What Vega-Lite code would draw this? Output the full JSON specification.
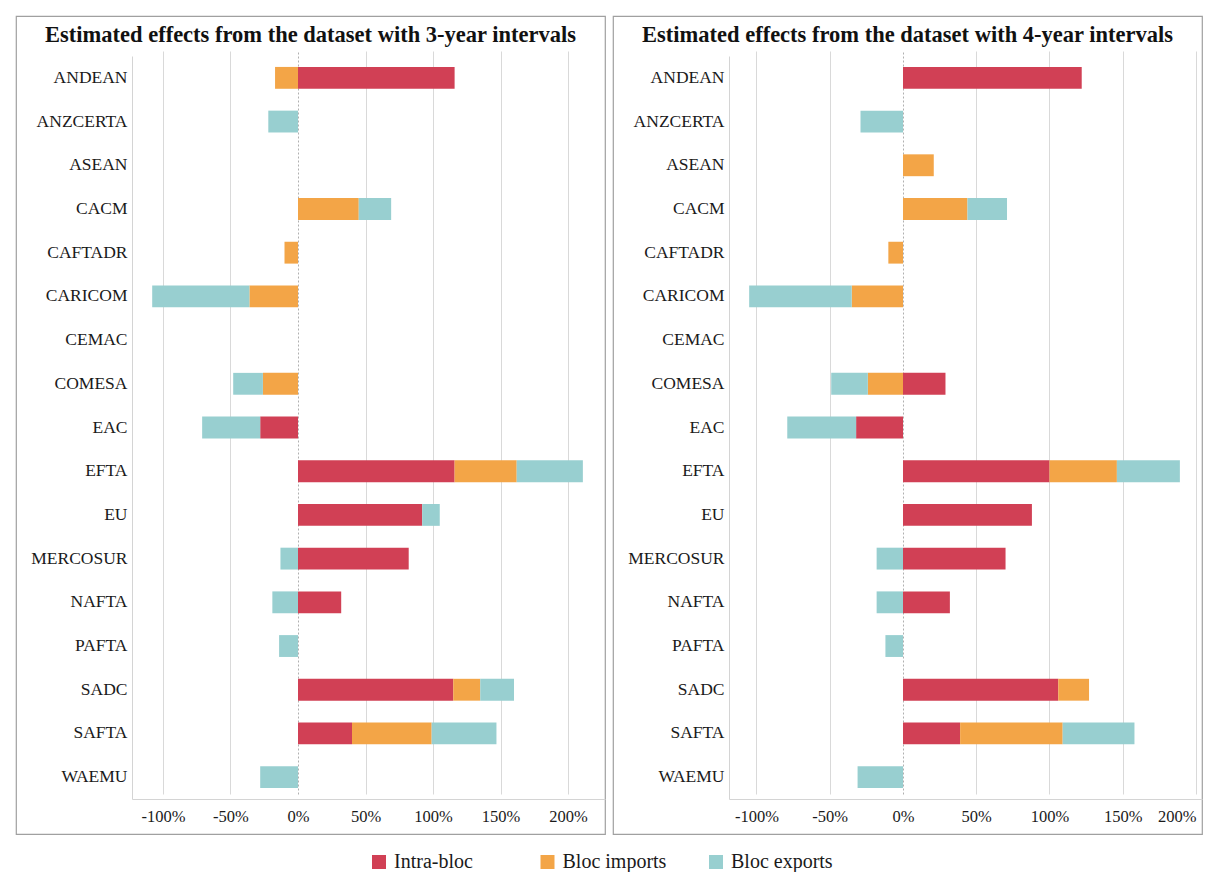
{
  "$schema": "https://vega.github.io/schema/vega-lite/v6.json",
  "padding": {"left": 15, "top": 15, "right": 0, "bottom": 0},
  "autosize": {"type": "pad"},
  "background": "white",
  "config": {
    "font": "Liberation Serif",
    "view": {"stroke": "#a0a0a0", "strokeWidth": 1.2},
    "axis": {"labelFont": "Liberation Serif", "labelColor": "#1a1a1a", "domainColor": "#d4d4d4", "gridColor": "#d9d9d9", "ticks": false, "title": null},
    "concat": {"spacing": 6}
  },
  "datasets": {
    "d3": [
      {"bloc": "ANDEAN", "effect": "Intra-bloc", "value": 116},
      {"bloc": "ANDEAN", "effect": "Bloc imports", "value": -17},
      {"bloc": "ANZCERTA", "effect": "Bloc exports", "value": -22},
      {"bloc": "CACM", "effect": "Bloc imports", "value": 45},
      {"bloc": "CACM", "effect": "Bloc exports", "value": 24},
      {"bloc": "CAFTADR", "effect": "Bloc imports", "value": -10},
      {"bloc": "CARICOM", "effect": "Bloc imports", "value": -36},
      {"bloc": "CARICOM", "effect": "Bloc exports", "value": -72},
      {"bloc": "COMESA", "effect": "Bloc imports", "value": -26},
      {"bloc": "COMESA", "effect": "Bloc exports", "value": -22},
      {"bloc": "EAC", "effect": "Intra-bloc", "value": -28},
      {"bloc": "EAC", "effect": "Bloc exports", "value": -43},
      {"bloc": "EFTA", "effect": "Intra-bloc", "value": 116},
      {"bloc": "EFTA", "effect": "Bloc imports", "value": 46},
      {"bloc": "EFTA", "effect": "Bloc exports", "value": 49},
      {"bloc": "EU", "effect": "Intra-bloc", "value": 92},
      {"bloc": "EU", "effect": "Bloc exports", "value": 13},
      {"bloc": "MERCOSUR", "effect": "Intra-bloc", "value": 82},
      {"bloc": "MERCOSUR", "effect": "Bloc exports", "value": -13},
      {"bloc": "NAFTA", "effect": "Intra-bloc", "value": 32},
      {"bloc": "NAFTA", "effect": "Bloc exports", "value": -19},
      {"bloc": "PAFTA", "effect": "Bloc exports", "value": -14},
      {"bloc": "SADC", "effect": "Intra-bloc", "value": 115},
      {"bloc": "SADC", "effect": "Bloc imports", "value": 20},
      {"bloc": "SADC", "effect": "Bloc exports", "value": 25},
      {"bloc": "SAFTA", "effect": "Intra-bloc", "value": 40},
      {"bloc": "SAFTA", "effect": "Bloc imports", "value": 59},
      {"bloc": "SAFTA", "effect": "Bloc exports", "value": 48},
      {"bloc": "WAEMU", "effect": "Bloc exports", "value": -28}
    ],
    "d4": [
      {"bloc": "ANDEAN", "effect": "Intra-bloc", "value": 122},
      {"bloc": "ANZCERTA", "effect": "Bloc exports", "value": -29},
      {"bloc": "ASEAN", "effect": "Bloc imports", "value": 21},
      {"bloc": "CACM", "effect": "Bloc imports", "value": 44},
      {"bloc": "CACM", "effect": "Bloc exports", "value": 27},
      {"bloc": "CAFTADR", "effect": "Bloc imports", "value": -10},
      {"bloc": "CARICOM", "effect": "Bloc imports", "value": -35},
      {"bloc": "CARICOM", "effect": "Bloc exports", "value": -70},
      {"bloc": "COMESA", "effect": "Intra-bloc", "value": 29},
      {"bloc": "COMESA", "effect": "Bloc imports", "value": -24},
      {"bloc": "COMESA", "effect": "Bloc exports", "value": -25},
      {"bloc": "EAC", "effect": "Intra-bloc", "value": -32},
      {"bloc": "EAC", "effect": "Bloc exports", "value": -47},
      {"bloc": "EFTA", "effect": "Intra-bloc", "value": 100},
      {"bloc": "EFTA", "effect": "Bloc imports", "value": 46},
      {"bloc": "EFTA", "effect": "Bloc exports", "value": 43},
      {"bloc": "EU", "effect": "Intra-bloc", "value": 88},
      {"bloc": "MERCOSUR", "effect": "Intra-bloc", "value": 70},
      {"bloc": "MERCOSUR", "effect": "Bloc exports", "value": -18},
      {"bloc": "NAFTA", "effect": "Intra-bloc", "value": 32},
      {"bloc": "NAFTA", "effect": "Bloc exports", "value": -18},
      {"bloc": "PAFTA", "effect": "Bloc exports", "value": -12},
      {"bloc": "SADC", "effect": "Intra-bloc", "value": 106},
      {"bloc": "SADC", "effect": "Bloc imports", "value": 21},
      {"bloc": "SAFTA", "effect": "Intra-bloc", "value": 39},
      {"bloc": "SAFTA", "effect": "Bloc imports", "value": 70},
      {"bloc": "SAFTA", "effect": "Bloc exports", "value": 49},
      {"bloc": "WAEMU", "effect": "Bloc exports", "value": -31}
    ]
  },
  "hconcat": [
    {
      "width": 589,
      "height": 818,
      "title": {"text": "Estimated effects from the dataset with 3-year intervals", "font": "Liberation Serif", "fontSize": 22.5, "fontWeight": "bold", "color": "#111111", "anchor": "middle", "frame": "group", "baseline": "alphabetic", "offset": -48},
      "data": {"name": "d3"},
      "mark": {"type": "bar"},
      "encoding": {
        "y": {"field": "bloc", "type": "nominal",
          "scale": {"domain": ["ANDEAN","ANZCERTA","ASEAN","CACM","CAFTADR","CARICOM","CEMAC","COMESA","EAC","EFTA","EU","MERCOSUR","NAFTA","PAFTA","SADC","SAFTA","WAEMU"], "range": [40, 783], "paddingInner": 0.5, "paddingOuter": 0.25},
          "axis": {"offset": -116, "labelFontSize": 17.5, "labelPadding": 5, "domain": true, "grid": false}},
        "x": {"field": "value", "type": "quantitative", "stack": "zero",
          "scale": {"domain": [-122.96, 227.4], "range": [116, 589], "nice": false, "zero": false},
          "axis": {"values": [-100, -50, 0, 50, 100, 150, 200], "labelExpr": "datum.value + '%'", "offset": -35, "labelFontSize": 16.5, "labelPadding": 9, "grid": true, "labelFlush": 8,
            "gridDash": {"condition": {"test": "datum.value === 0", "value": [2, 2]}, "value": []},
            "gridColor": {"condition": {"test": "datum.value === 0", "value": "#b0b0b0"}, "value": "#d9d9d9"}}},
        "color": {"field": "effect", "type": "nominal",
          "scale": {"domain": ["Intra-bloc", "Bloc imports", "Bloc exports"], "range": ["#D14055", "#F3A547", "#98CFD0"]},
          "legend": {"orient": "none", "legendX": 353, "legendY": 836, "direction": "horizontal", "columns": 3, "title": null, "symbolType": "square", "symbolSize": 196, "symbolStrokeWidth": 0, "symbolOpacity": 1, "labelFontSize": 20, "labelFont": "Liberation Serif", "labelColor": "#1a1a1a", "columnPadding": 39.5, "gridAlign": "all", "labelOffset": 5, "padding": 0}},
        "order": {"field": "effect", "sort": "descending"}
      }
    },
    {
      "width": 589,
      "height": 818,
      "title": {"text": "Estimated effects from the dataset with 4-year intervals", "font": "Liberation Serif", "fontSize": 22.5, "fontWeight": "bold", "color": "#111111", "anchor": "middle", "frame": "group", "baseline": "alphabetic", "offset": -48},
      "data": {"name": "d4"},
      "mark": {"type": "bar"},
      "encoding": {
        "y": {"field": "bloc", "type": "nominal",
          "scale": {"domain": ["ANDEAN","ANZCERTA","ASEAN","CACM","CAFTADR","CARICOM","CEMAC","COMESA","EAC","EFTA","EU","MERCOSUR","NAFTA","PAFTA","SADC","SAFTA","WAEMU"], "range": [40, 783], "paddingInner": 0.5, "paddingOuter": 0.25},
          "axis": {"offset": -116, "labelFontSize": 17.5, "labelPadding": 5, "domain": true, "grid": false}},
        "x": {"field": "value", "type": "quantitative", "stack": "zero",
          "scale": {"domain": [-118.77, 204.1], "range": [116, 589], "nice": false, "zero": false},
          "axis": {"values": [-100, -50, 0, 50, 100, 150, 200], "labelExpr": "datum.value + '%'", "offset": -35, "labelFontSize": 16.5, "labelPadding": 9, "grid": true, "labelFlush": 8,
            "gridDash": {"condition": {"test": "datum.value === 0", "value": [2, 2]}, "value": []},
            "gridColor": {"condition": {"test": "datum.value === 0", "value": "#b0b0b0"}, "value": "#d9d9d9"}}},
        "color": {"field": "effect", "type": "nominal",
          "scale": {"domain": ["Intra-bloc", "Bloc imports", "Bloc exports"], "range": ["#D14055", "#F3A547", "#98CFD0"]},
          "legend": {"orient": "none", "legendX": 353, "legendY": 836, "direction": "horizontal", "columns": 3, "title": null, "symbolType": "square", "symbolSize": 196, "symbolStrokeWidth": 0, "symbolOpacity": 1, "labelFontSize": 20, "labelFont": "Liberation Serif", "labelColor": "#1a1a1a", "columnPadding": 39.5, "gridAlign": "all", "labelOffset": 5, "padding": 0}},
        "order": {"field": "effect", "sort": "descending"}
      }
    }
  ]
}
